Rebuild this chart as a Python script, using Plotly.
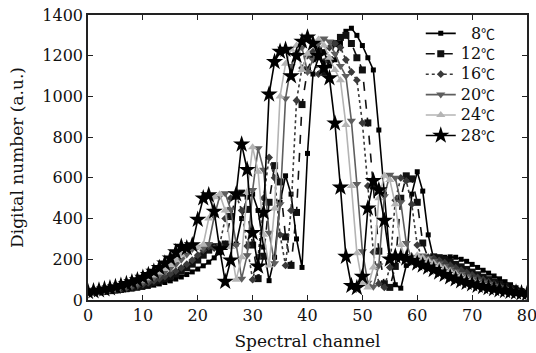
import plotly.graph_objects as go

channels = list(range(81))

s28 = [40, 44, 48, 53, 58, 64, 71, 79, 88, 98,
       110, 124, 140, 158, 180, 205, 235, 262, 255, 270,
       395, 500, 515, 435, 250, 90, 195, 520, 765, 640,
       330, 165, 430, 1010, 1170, 1220, 1230, 1100, 1200, 1270,
       1290, 1260, 1200, 1140, 1090, 868, 553, 213, 70, 60,
       115, 450, 585, 540, 390, 200, 215, 212, 205, 192,
       180, 170, 160, 148, 136, 124, 112, 102, 93, 85,
       78, 71, 65, 59, 54, 49, 45, 41, 37, 34, 30]

s24 = [40, 42, 45, 49, 53, 58, 63, 70, 77, 86,
       96, 107, 120, 135, 152, 172, 196, 222, 250, 268,
       258, 272, 400, 505, 520, 440, 260, 100, 210, 530,
       750, 630, 320, 170, 450, 1000, 1160, 1230, 1250, 1130,
       1210, 1270, 1280, 1250, 1190, 1130, 1080, 860, 560, 230,
       80, 62, 160, 500, 610, 590, 470, 270, 190, 215,
       220, 208, 195, 182, 169, 156, 143, 130, 118, 107,
       97, 88, 80, 72, 65, 58, 52, 46, 41, 36, 32]

s20 = [39, 41, 44, 47, 51, 55, 60, 66, 72, 80,
       89, 99, 110, 123, 138, 155, 175, 198, 224, 250,
       262, 255, 275, 410, 510, 525, 445, 270, 105, 220,
       540, 745, 640, 330, 180, 470, 990, 1150, 1210, 1240,
       1120, 1180, 1260, 1285, 1270, 1210, 1150, 1100, 880, 570,
       240, 85, 65, 170, 510, 615, 600, 480, 280, 200,
       210, 218, 205, 192, 179, 166, 153, 140, 128, 116,
       105, 95, 86, 77, 69, 61, 54, 47, 41, 36, 31]

s16 = [38, 40, 42, 45, 48, 51, 55, 59, 64, 70,
       77, 85, 94, 104, 115, 128, 142, 158, 176, 196,
       220, 245, 262, 255, 272, 400, 500, 515, 440, 265,
       100, 210, 500, 700, 600, 320, 170, 440, 980, 1140,
       1200, 1220, 1110, 1170, 1240, 1260, 1240, 1180, 1120, 1080,
       870, 560, 235, 80, 62, 160, 490, 600, 585, 470,
       270, 200, 210, 205, 195, 183, 171, 159, 147, 135,
       123, 111, 100, 89, 79, 69, 60, 51, 43, 37, 31]

s12 = [37, 39, 41, 43, 46, 49, 52, 56, 60, 65,
       71, 78, 86, 95, 105, 116, 128, 142, 158, 176,
       196, 220, 245, 262, 258, 275, 410, 510, 525, 445,
       270, 105, 215, 480, 660, 580, 310, 170, 430, 960,
       1130, 1200, 1230, 1120, 1180, 1260, 1290, 1300, 1260, 1190,
       1130, 870, 560, 240, 80, 62, 165, 500, 610, 595,
       480, 280, 205, 212, 208, 198, 187, 175, 163, 150,
       137, 124, 112, 100, 89, 78, 67, 57, 47, 39, 32]

s8 = [36, 37, 39, 41, 43, 45, 48, 51, 54, 58,
      62, 67, 73, 79, 86, 94, 103, 113, 125, 138,
      152, 168, 186, 207, 232, 258, 265, 275, 400, 505,
      520, 440, 260, 95, 210, 480, 610, 520, 300, 160,
      720, 1110, 1190, 1220, 1150, 1180, 1260, 1320, 1335, 1300,
      1250, 1190, 1130, 835, 520, 210, 75, 58, 170, 520,
      630, 535, 320, 200, 205, 210, 212, 210, 200, 190,
      175, 160, 146, 132, 118, 104, 90, 75, 60, 46, 33]

deg = "<span style='font-family:Noto Sans CJK SC;font-size:14px'>\u2103</span>"
labels = ["\u2007" + "8", "12", "16", "20", "24", "28"]
labels = ["<span style='font-size:16px'>" + t + "</span>" + deg for t in labels]
series = [s8, s12, s16, s20, s24, s28]
colors = ["#000000", "#111111", "#3a3a3a", "#5e5e5e", "#b4b4b4", "#000000"]
dashes = ["solid", "dash", "dot", "solid", "solid", "solid"]
symbols = ["square", "square", "diamond", "triangle-down", "triangle-up", "star"]
msizes = [5, 7, 6, 8, 8, 13]

fig = go.Figure()
for lab, ys, c, d, sym, ms in zip(labels, series, colors, dashes, symbols, msizes):
    fig.add_trace(go.Scatter(
        x=channels, y=ys, name=lab, mode="lines+markers",
        line=dict(color=c, width=1.6, dash=d),
        marker=dict(symbol=sym, size=ms, color=c),
    ))

font = dict(family="DejaVu Serif", size=16, color="#111111")
tfont = dict(family="DejaVu Serif", size=17, color="#111111")
lfont = dict(family="DejaVu Serif", size=13.4, color="#111111")
fig.update_layout(
    width=536, height=353,
    margin=dict(l=88, r=9, t=15, b=53),
    paper_bgcolor="white", plot_bgcolor="white",
    font=font,
    showlegend=True,
    legend=dict(x=0.758, y=0.989, xanchor="left", yanchor="top",
                bgcolor="rgba(0,0,0,0)", font=lfont, itemwidth=30,
                tracegroupgap=0),
)
fig.update_xaxes(
    range=[0, 80], tickvals=list(range(0, 81, 10)),
    ticks="inside", ticklen=5, tickcolor="#222",
    showline=True, linecolor="#222", linewidth=1.5, mirror="ticks",
    showgrid=False, zeroline=False, automargin=False,
    ticklabeloverflow="allow",
    title=dict(text="Spectral channel", standoff=11, font=tfont),
)
fig.update_yaxes(
    range=[0, 1400], tickvals=list(range(0, 1401, 200)),
    ticks="inside", ticklen=5, tickcolor="#222",
    showline=True, linecolor="#222", linewidth=1.5, mirror="ticks",
    showgrid=False, zeroline=False, automargin=False,
    ticklabeloverflow="allow",
    title=dict(text="Digital number (a.u.)", standoff=14, font=tfont),
)

fig.write_html("out.html", config={"displayModeBar": False},
               post_script="document.body.style.margin='0';")
